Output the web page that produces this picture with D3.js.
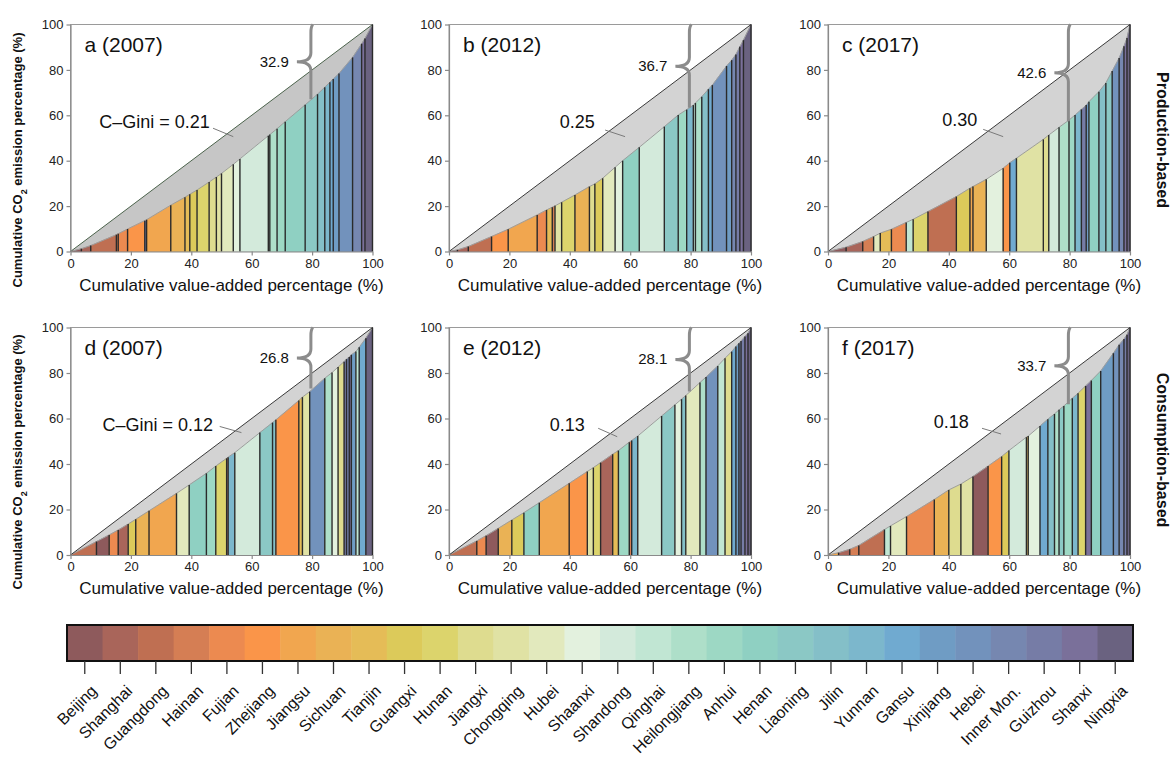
<!DOCTYPE html>
<html>
<head>
<meta charset="utf-8">
<script src="https://d3js.org/d3.v7.min.js"></script>
<style>
  body { margin: 0; background: #fff; }
  svg { display: block; font-family: Arial, "Liberation Sans", sans-serif; }
</style>
</head>
<body>
<svg width="1175" height="761"></svg>
<script>
// provinces in legend order, with their colours
const provinces = ["Beijing", "Shanghai", "Guangdong", "Hainan", "Fujian", "Zhejiang", "Jiangsu", "Sichuan",
  "Tianjin", "Guangxi", "Hunan", "Jiangxi", "Chongqing", "Hubei", "Shaanxi", "Shandong", "Qinghai",
  "Heilongjiang", "Anhui", "Henan", "Liaoning", "Jilin", "Yunnan", "Gansu", "Xinjiang", "Hebei",
  "Inner Mon.", "Guizhou", "Shanxi", "Ningxia"];
const provinceColors = ["#8e5a5c", "#a9655a", "#bf6f52", "#d57e54", "#ec8a50", "#fa9549", "#f1a64f", "#eab255",
  "#e5bc57", "#dcca5a", "#dcd46c", "#dedc8f", "#e0e2a4", "#e2e9bd", "#e3f1de", "#d3eadb", "#c1e6d3",
  "#aedfc9", "#9dd8c4", "#8fd0c2", "#8bc8c5", "#84bfc8", "#7cb7cc", "#70aad0", "#6f9cc4", "#7292bc",
  "#7687b0", "#767ca6", "#7a709a", "#6a6280"];

// a: production-based 2007
const prod2007Order = ["Beijing", "Shanghai", "Guangdong", "Hainan", "Fujian", "Zhejiang", "Guizhou", "Jiangsu",
  "Sichuan", "Tianjin", "Guangxi", "Hunan", "Jiangxi", "Chongqing", "Hubei", "Shaanxi", "Shandong", "Qinghai",
  "Heilongjiang", "Anhui", "Henan", "Liaoning", "Jilin", "Yunnan", "Gansu", "Xinjiang", "Hebei", "Inner Mon.",
  "Shanxi", "Ningxia"];
const prod2007CumVA = [3.6, 6.7, 15.2, 15.8, 18.9, 24.6, 25.2, 33.2, 37.9, 39.5, 41.9, 45.9, 48.3, 50.0, 53.9,
  56.1, 65.5, 66.0, 68.4, 71.1, 77.7, 81.8, 84.2, 85.9, 87.0, 88.9, 93.4, 96.4, 97.5, 100];
const prod2007CumCO2 = [1.2, 2.6, 7.4, 7.8, 9.9, 13.6, 14.0, 20.4, 23.9, 25.2, 27.1, 30.6, 32.8, 34.4, 38.4,
  40.8, 51.0, 51.5, 54.1, 57.2, 64.6, 69.3, 72.4, 74.6, 76.0, 78.4, 85.5, 91.5, 93.8, 100];

// b: production-based 2012
const prod2012Order = ["Beijing", "Shanghai", "Guangdong", "Zhejiang", "Jiangsu", "Fujian", "Tianjin", "Hainan",
  "Chongqing", "Hunan", "Sichuan", "Jiangxi", "Guangxi", "Hubei", "Shaanxi", "Henan", "Shandong", "Liaoning",
  "Anhui", "Yunnan", "Qinghai", "Heilongjiang", "Jilin", "Gansu", "Hebei", "Xinjiang", "Inner Mon.", "Guizhou",
  "Shanxi", "Ningxia"];
const prod2012CumVA = [2.8, 6.4, 14.1, 19.6, 29.2, 32.3, 34.2, 35.1, 37.3, 41.7, 46.5, 48.3, 50.9, 55.0, 57.5,
  63.0, 71.3, 75.9, 78.7, 80.9, 81.6, 83.7, 85.9, 87.2, 91.9, 93.6, 95.0, 96.3, 97.5, 100];
const prod2012CumCO2 = [0.7, 2.2, 6.6, 9.8, 16.1, 18.3, 19.5, 20.1, 21.7, 24.9, 28.6, 29.8, 32.3, 37.1, 40.0,
  45.9, 55.0, 60.1, 62.5, 64.5, 65.4, 68.2, 71.5, 73.3, 81.7, 84.3, 86.8, 90.2, 93.1, 100];

// c: production-based 2017
const prod2017Order = ["Beijing", "Shanghai", "Hainan", "Hubei", "Tianjin", "Fujian", "Qinghai", "Hunan",
  "Guangdong", "Guangxi", "Jiangsu", "Sichuan", "Shaanxi", "Zhejiang", "Gansu", "Chongqing", "Jiangxi",
  "Shandong", "Heilongjiang", "Anhui", "Yunnan", "Guizhou", "Xinjiang", "Henan", "Jilin", "Liaoning", "Hebei",
  "Inner Mon.", "Shanxi", "Ningxia"];
const prod2017CumVA = [6.0, 11.5, 15.1, 17.3, 21.0, 25.9, 28.2, 33.1, 42.5, 47.0, 48.0, 52.4, 58.0, 60.2, 62.4,
  71.3, 73.1, 76.5, 79.8, 81.8, 83.9, 85.5, 86.4, 89.7, 92.0, 94.1, 96.4, 98.0, 99.0, 100];
const prod2017CumCO2 = [1.9, 4.4, 6.6, 8.1, 9.8, 12.8, 14.2, 17.6, 24.2, 27.9, 28.6, 31.8, 36.7, 39.1, 41.1,
  49.4, 51.3, 54.7, 57.9, 60.1, 62.6, 64.5, 66.0, 70.4, 74.2, 79.5, 85.2, 90.4, 94.0, 100];

// d: consumption-based 2007
const cons2007Order = ["Guangdong", "Beijing", "Fujian", "Shanghai", "Guangxi", "Sichuan", "Jiangsu", "Hubei",
  "Henan", "Anhui", "Hunan", "Hainan", "Yunnan", "Shandong", "Liaoning", "Jilin", "Zhejiang", "Tianjin",
  "Chongqing", "Hebei", "Heilongjiang", "Shaanxi", "Jiangxi", "Guizhou", "Inner Mon.", "Shanxi", "Xinjiang",
  "Qinghai", "Gansu", "Ningxia"];
const cons2007CumVA = [8.6, 12.8, 15.8, 19.1, 21.6, 26.0, 35.1, 39.3, 45.0, 48.1, 51.7, 52.2, 54.4, 62.7, 66.9,
  68.0, 75.6, 76.8, 79.2, 84.2, 86.6, 88.6, 90.6, 91.4, 92.3, 93.0, 94.5, 95.6, 97.8, 100];
const cons2007CumCO2 = [5.9, 8.8, 11.0, 13.6, 15.7, 19.4, 27.1, 30.8, 35.9, 39.1, 42.5, 43.0, 45.0, 53.8, 58.2,
  59.4, 67.9, 69.4, 71.8, 77.7, 80.2, 82.6, 85.0, 86.1, 87.0, 88.0, 89.4, 91.3, 95.3, 100];

// e: consumption-based 2012
const cons2012Order = ["Guangdong", "Fujian", "Beijing", "Sichuan", "Guangxi", "Henan", "Jiangsu", "Zhejiang",
  "Chongqing", "Hunan", "Shanghai", "Tianjin", "Anhui", "Hainan", "Yunnan", "Shandong", "Liaoning", "Shaanxi",
  "Jilin", "Hubei", "Heilongjiang", "Hebei", "Qinghai", "Jiangxi", "Gansu", "Xinjiang", "Inner Mon.", "Guizhou",
  "Shanxi", "Ningxia"];
const cons2012CumVA = [9.2, 12.3, 16.3, 20.8, 24.8, 29.9, 39.8, 45.8, 47.8, 50.2, 54.2, 56.1, 59.7, 60.5, 62.5,
  70.4, 74.8, 77.0, 78.4, 83.1, 85.1, 89.0, 91.4, 93.6, 95.0, 96.0, 96.7, 98.0, 99.0, 100];
const cons2012CumCO2 = [6.2, 8.5, 11.7, 15.4, 18.6, 23.0, 31.5, 36.7, 38.4, 40.6, 44.3, 45.9, 49.6, 50.3, 52.3,
  61.1, 66.0, 68.5, 70.1, 75.8, 78.2, 83.1, 86.5, 89.4, 91.6, 93.1, 94.1, 96.0, 97.5, 100];

// f: consumption-based 2017
const cons2017Order = ["Jiangsu", "Shanghai", "Hainan", "Guangdong", "Qinghai", "Hubei", "Fujian", "Sichuan",
  "Jiangxi", "Chongqing", "Beijing", "Zhejiang", "Guangxi", "Shandong", "Tianjin", "Shaanxi", "Gansu", "Jilin",
  "Heilongjiang", "Liaoning", "Anhui", "Yunnan", "Hunan", "Shanxi", "Henan", "Xinjiang", "Hebei", "Inner Mon.",
  "Guizhou", "Ningxia"];
const cons2017CumVA = [3.5, 7.2, 10.2, 18.7, 20.7, 26.0, 35.2, 40.0, 44.0, 48.0, 53.0, 57.5, 59.9, 65.7, 66.3,
  70.2, 72.8, 75.0, 76.5, 78.1, 80.9, 82.8, 85.3, 87.2, 90.3, 94.5, 96.4, 98.0, 99.0, 100];
const cons2017CumCO2 = [1.0, 2.5, 4.2, 11.2, 12.8, 16.9, 24.4, 28.6, 31.2, 34.5, 39.1, 43.3, 45.9, 51.8, 52.3,
  56.7, 59.7, 62.0, 63.8, 65.5, 68.9, 71.1, 74.3, 76.7, 80.9, 88.7, 92.4, 94.9, 96.8, 100];

const panelLetters = ["a", "b", "c", "d", "e", "f"];
const panelYears = [2007, 2012, 2017, 2007, 2012, 2017];
const giniValues = ["0.21", "0.25", "0.30", "0.12", "0.13", "0.18"];
const top20Gaps = ["32.9", "36.7", "42.6", "26.8", "28.1", "33.7"];
const axisTicks = [0, 20, 40, 60, 80, 100];

const panels = [
  { order: prod2007Order, va: prod2007CumVA, co2: prod2007CumCO2 },
  { order: prod2012Order, va: prod2012CumVA, co2: prod2012CumCO2 },
  { order: prod2017Order, va: prod2017CumVA, co2: prod2017CumCO2 },
  { order: cons2007Order, va: cons2007CumVA, co2: cons2007CumCO2 },
  { order: cons2012Order, va: cons2012CumVA, co2: cons2012CumCO2 },
  { order: cons2017Order, va: cons2017CumVA, co2: cons2017CumCO2 }
];

// layout
const colX = [[70.5, 372.5], [449, 751], [828, 1130]];
const rowY = [[251.5, 24.5], [555, 327.5]];
// gini label placement: text end x, text baseline y, leader from (x1,y1) to (x2,y2), in axis units
const giniLayout = [
  [46.1, 54.3, 47.2, 54.3, 53.9, 50.6],
  [48.3, 54.3, 51.7, 53.5, 58.3, 50.6],
  [49.4, 55.3, 51.4, 53.8, 58.0, 50.6],
  [47.2, 54.7, 49.4, 56.5, 56.6, 53.8],
  [45.0, 54.7, 49.4, 55.7, 55.7, 52.0],
  [46.6, 55.7, 51.0, 55.7, 57.3, 53.2]
];

const colorOf = d3.scaleOrdinal().domain(provinces).range(provinceColors);
const svg = d3.select("svg");

panels.forEach((p, k) => {
  const col = k % 3, row = Math.floor(k / 3);
  const x = d3.scaleLinear().domain([0, 100]).range(colX[col]);
  const y = d3.scaleLinear().domain([0, 100]).range(rowY[row]);
  const g = svg.append("g").attr("class", "panel");

  const pts = [[0, 0]].concat(p.va.map((v, i) => [v, p.co2[i]]));
  const segs = p.order.map((name, i) => ({
    name, x0: pts[i][0], y0: pts[i][1], x1: pts[i + 1][0], y1: pts[i + 1][1]
  }));

  // frame
  g.append("rect")
    .attr("x", x(0)).attr("y", y(100))
    .attr("width", x(100) - x(0)).attr("height", y(0) - y(100))
    .attr("fill", "none").attr("stroke", "#9a9a9a").attr("stroke-width", 1);

  // grey area between equality line and curve
  const line = d3.line().x(d => x(d[0])).y(d => y(d[1]));
  g.append("path")
    .attr("d", line([[0, 0], [100, 100]].concat(pts.slice().reverse())))
    .attr("fill", k === 0 ? "#c6c6c6" : "#d3d3d3");

  // province bars under the curve
  g.selectAll("path.bar")
    .data(segs)
    .enter()
    .append("path")
    .attr("class", "bar")
    .attr("d", d => line([[d.x0, 0], [d.x0, d.y0], [d.x1, d.y1], [d.x1, 0]]) + "Z")
    .attr("fill", d => colorOf(d.name))
    .attr("stroke", d => colorOf(d.name))
    .attr("stroke-width", 0.5);

  // curve
  g.append("path")
    .attr("d", line(pts))
    .attr("fill", "none").attr("stroke", "#9c9c9c").attr("stroke-width", 1);

  // equality line
  g.append("path")
    .attr("d", line([[0, 0], [100, 100]]))
    .attr("fill", "none")
    .attr("stroke", k === 0 ? "#4c634c" : "#3a3a3a")
    .attr("stroke-width", 1);

  // separators
  g.selectAll("line.sep")
    .data(segs)
    .enter()
    .append("line")
    .attr("class", "sep")
    .attr("x1", d => x(d.x1)).attr("x2", d => x(d.x1))
    .attr("y1", y(0)).attr("y2", d => y(d.y1))
    .attr("stroke", "#2b2b2b").attr("stroke-width", 1.4);

  // axes
  const xAxis = g.append("g")
    .attr("transform", `translate(0,${y(0)})`)
    .call(d3.axisBottom(x).tickValues(axisTicks).tickSize(4).tickSizeOuter(0));
  const yAxis = g.append("g")
    .attr("transform", `translate(${x(0)},0)`)
    .call(d3.axisLeft(y).tickValues(axisTicks).tickSize(4).tickSizeOuter(0));
  [xAxis, yAxis].forEach(a => {
    a.select(".domain").attr("stroke", "#8a8a8a").attr("stroke-width", 1.2);
    a.selectAll(".tick line").attr("stroke", "#8a8a8a").attr("stroke-width", 1.2);
    a.selectAll(".tick text").attr("fill", "#222").style("font-size", "13px")
      .style("font-family", "Arial, 'Liberation Sans', sans-serif");
  });

  // x title
  g.append("text")
    .attr("x", (x(0) + x(100)) / 2 + 10)
    .attr("y", y(0) + 39)
    .attr("text-anchor", "middle")
    .attr("fill", "#111")
    .style("font-size", "17px")
    .text("Cumulative value-added percentage (%)");

  // panel label
  g.append("text")
    .attr("x", x(0) + 14).attr("y", y(100) + 27)
    .attr("fill", "#111")
    .style("font-size", "21px")
    .text(`${panelLetters[k]} (${panelYears[k]})`);

  // gini label and leader
  const gl = giniLayout[k];
  g.append("text")
    .attr("x", x(gl[0])).attr("y", y(gl[1]))
    .attr("text-anchor", "end")
    .attr("fill", "#111")
    .style("font-size", "18px")
    .text(col === 0 ? `C\u2013Gini = ${giniValues[k]}` : giniValues[k]);
  g.append("line")
    .attr("x1", x(gl[2])).attr("y1", y(gl[3]))
    .attr("x2", x(gl[4])).attr("y2", y(gl[5]))
    .attr("stroke", "#7a7a7a").attr("stroke-width", 1);

  // brace from top edge down to the curve at 80 %
  const bx = x(79.6);
  const yTop = y(100);
  const yBot = y(100 - +top20Gaps[k]);
  const ym = (yTop + yBot) / 2;
  const w = 14, r = 9;
  const brace = d3.path();
  brace.moveTo(bx + 2, yTop);
  brace.quadraticCurveTo(bx, yTop + 2, bx, yTop + 8);
  brace.lineTo(bx, ym - r);
  brace.quadraticCurveTo(bx, ym, bx - w, ym);
  brace.quadraticCurveTo(bx, ym, bx, ym + r);
  brace.lineTo(bx, yBot);
  g.append("path")
    .attr("d", brace.toString())
    .attr("fill", "none")
    .attr("stroke", "#8c8c8c")
    .attr("stroke-width", 3);
  g.append("text")
    .attr("x", bx - w - 8).attr("y", ym + 5)
    .attr("text-anchor", "end")
    .attr("fill", "#111")
    .style("font-size", "15px")
    .text(top20Gaps[k]);
});

// y titles
[160, 462].forEach(cy => {
  const t = svg.append("text")
    .attr("transform", `translate(22,${cy}) rotate(-90)`)
    .attr("text-anchor", "middle")
    .attr("fill", "#111")
    .style("font-size", "13px")
    .style("font-weight", "bold");
  t.append("tspan").text("Cumulative CO");
  t.append("tspan").attr("baseline-shift", "sub").style("font-size", "9px").text("2");
  t.append("tspan").text(" emission percentage (%)");
});

// row titles
[["Production-based", 140], ["Consumption-based", 450]].forEach(([label, cy]) => {
  svg.append("text")
    .attr("transform", `translate(1157,${cy}) rotate(90)`)
    .attr("text-anchor", "middle")
    .attr("fill", "#111")
    .style("font-size", "16px")
    .style("font-weight", "bold")
    .text(label);
});

// legend colour bar
const legX = d3.scaleBand().domain(provinces).range([67, 1133]);
const legTop = 625, legH = 36;
const leg = svg.append("g");
leg.selectAll("rect.cell")
  .data(provinces)
  .enter()
  .append("rect")
  .attr("class", "cell")
  .attr("x", d => legX(d)).attr("y", legTop)
  .attr("width", legX.bandwidth() + 0.5).attr("height", legH)
  .attr("fill", d => colorOf(d));
leg.append("rect")
  .attr("x", 67).attr("y", legTop)
  .attr("width", 1133 - 67).attr("height", legH)
  .attr("fill", "none").attr("stroke", "#111").attr("stroke-width", 2);
leg.selectAll("line.tick")
  .data(provinces)
  .enter()
  .append("line")
  .attr("x1", d => legX(d) + legX.bandwidth() / 2)
  .attr("x2", d => legX(d) + legX.bandwidth() / 2)
  .attr("y1", legTop + legH).attr("y2", legTop + legH + 13)
  .attr("stroke", "#333").attr("stroke-width", 1.3);
leg.selectAll("text.lab")
  .data(provinces)
  .enter()
  .append("text")
  .attr("class", "lab")
  .attr("transform", d => `translate(${legX(d) + legX.bandwidth() / 2 + 13},${legTop + legH + 31}) rotate(-45)`)
  .attr("text-anchor", "end")
  .attr("fill", "#111")
  .style("font-size", "16px")
  .text(d => d);
</script>
</body>
</html>
